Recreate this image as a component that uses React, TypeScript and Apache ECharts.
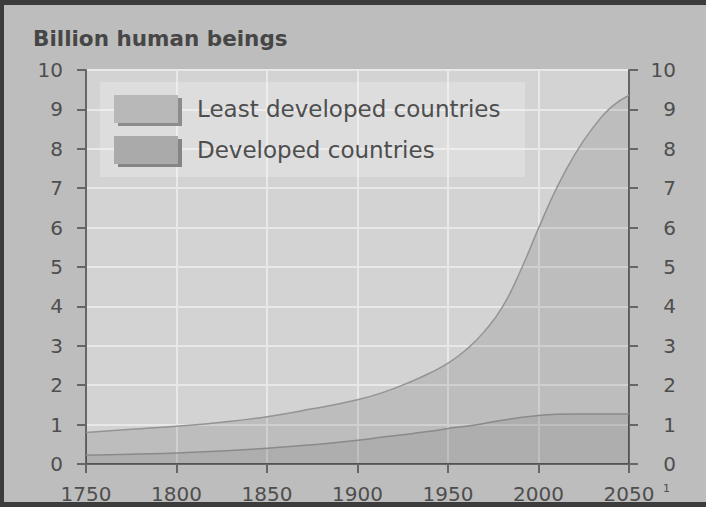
import React, { useEffect, useRef } from "react";
import * as echarts from "echarts";

// Years sampled along the curves
const years = [
  1750, 1775, 1800, 1825, 1850, 1875, 1900, 1915, 1930, 1940, 1950, 1960,
  1970, 1980, 1990, 2000, 2010, 2020, 2030, 2040, 2050,
];

// Developed countries, billions
const developed = [
  0.22, 0.25, 0.28, 0.33, 0.4, 0.49, 0.6, 0.69, 0.77, 0.83, 0.9, 0.96, 1.03,
  1.11, 1.18, 1.23, 1.26, 1.27, 1.27, 1.27, 1.27,
];

// Least developed countries, billions (the band above developed)
const leastDeveloped = [
  0.58, 0.63, 0.68, 0.73, 0.8, 0.91, 1.03, 1.14, 1.33, 1.48, 1.66, 1.94, 2.33,
  2.87, 3.72, 4.75, 5.74, 6.58, 7.26, 7.78, 8.09,
];

const seriesNames = ["Least developed countries", "Developed countries"];
const yTicks = { min: 0, max: 10, interval: 1 };
const xTicks = { min: 1750, max: 2050, interval: 50 };

const FONT = "DejaVu Sans";
const TEXT = "#4e4e4e";
const AXIS = "#666666";

export default function App() {
  const ref = useRef<HTMLDivElement>(null);

  useEffect(() => {
    document.body.style.margin = "0";
    if (!ref.current) return;
    const chart = echarts.init(ref.current, null, { renderer: "svg" });

    // upper boundary of the least-developed band sits on top of developed
    const bandTop = years.map((y, i) => [
      y,
      +(developed[i] + leastDeveloped[i]).toFixed(2),
    ]);

    const axisCommon = {
      axisLine: { show: true, lineStyle: { color: AXIS, width: 2 } },
      axisTick: { show: true, length: 9, lineStyle: { color: AXIS, width: 2 } },
    };

    chart.setOption({
      animation: false,
      backgroundColor: "#bdbdbd",
      title: {
        text: "Billion human beings",
        left: 33,
        top: 27,
        padding: 0,
        textStyle: {
          fontFamily: FONT,
          fontSize: 21.5,
          fontWeight: "bold",
          color: "#464646",
        },
      },
      grid: {
        left: 86,
        right: 77,
        top: 70,
        bottom: 43,
        show: true,
        backgroundColor: "#d3d3d3",
        borderWidth: 0,
      },
      legend: {
        orient: "vertical",
        left: 114,
        top: 95,
        itemWidth: 64,
        itemHeight: 28,
        itemGap: 13,
        icon: "rect",
        padding: 0,
        textStyle: {
          fontFamily: FONT,
          fontSize: 23,
          color: TEXT,
          padding: [0, 0, 0, 14],
        },
        data: [
          {
            name: seriesNames[0],
            itemStyle: {
              color: "#b8b8b8",
              borderWidth: 0,
              shadowColor: "#8c8c8c",
              shadowBlur: 0,
              shadowOffsetX: 4,
              shadowOffsetY: 3,
            },
          },
          {
            name: seriesNames[1],
            itemStyle: {
              color: "#aaaaaa",
              borderWidth: 0,
              shadowColor: "#858585",
              shadowBlur: 0,
              shadowOffsetX: 4,
              shadowOffsetY: 3,
            },
          },
        ],
      },
      xAxis: {
        type: "value",
        ...xTicks,
        ...axisCommon,
        splitLine: { show: true, lineStyle: { color: "#e8e8e8", width: 2 } },
        axisLabel: {
          fontFamily: FONT,
          fontSize: 20,
          color: TEXT,
          margin: 20,
          formatter: (v: number) => String(v),
        },
      },
      yAxis: [
        {
          type: "value",
          position: "left",
          ...yTicks,
          ...axisCommon,
          splitLine: { show: true, lineStyle: { color: "#e8e8e8", width: 2 } },
          axisLabel: {
            fontFamily: FONT,
            fontSize: 20,
            color: TEXT,
            margin: 23,
          },
        },
        {
          type: "value",
          position: "right",
          ...yTicks,
          ...axisCommon,
          splitLine: { show: false },
          axisLabel: {
            fontFamily: FONT,
            fontSize: 20,
            color: TEXT,
            align: "right",
            margin: 47,
          },
        },
      ],
      graphic: [
        // translucent panel behind the legend
        {
          type: "rect",
          z: 1,
          shape: { x: 100, y: 82, width: 425, height: 95 },
          style: { fill: "rgba(255,255,255,0.24)" },
          silent: true,
        },
        // footnote marker after the last year
        {
          type: "text",
          x: 663,
          y: 483,
          style: {
            text: "1",
            fontFamily: FONT,
            fontSize: 11,
            fill: TEXT,
          },
        },
        // dark scan edges
        { type: "rect", shape: { x: 0, y: 0, width: 706, height: 5 }, style: { fill: "#3c3c3c" } },
        { type: "rect", shape: { x: 0, y: 0, width: 4, height: 507 }, style: { fill: "#3c3c3c" } },
        { type: "rect", shape: { x: 0, y: 502, width: 706, height: 5 }, style: { fill: "#3c3c3c" } },
      ],
      series: [
        {
          name: seriesNames[0],
          type: "line",
          smooth: 0.5,
          symbol: "none",
          data: bandTop,
          lineStyle: { color: "#949494", width: 1.5 },
          areaStyle: { color: "rgba(0,0,0,0.1)", opacity: 1 },
          itemStyle: { color: "#b8b8b8" },
          z: 2,
        },
        {
          name: seriesNames[1],
          type: "line",
          smooth: 0.5,
          symbol: "none",
          data: years.map((y, i) => [y, developed[i]]),
          lineStyle: { color: "#8a8a8a", width: 1.5 },
          areaStyle: { color: "rgba(0,0,0,0.08)", opacity: 1 },
          itemStyle: { color: "#aaaaaa" },
          z: 3,
        },
      ],
    });

    return () => chart.dispose();
  }, []);

  return <div ref={ref} style={{ width: 706, height: 507 }} />;
}
